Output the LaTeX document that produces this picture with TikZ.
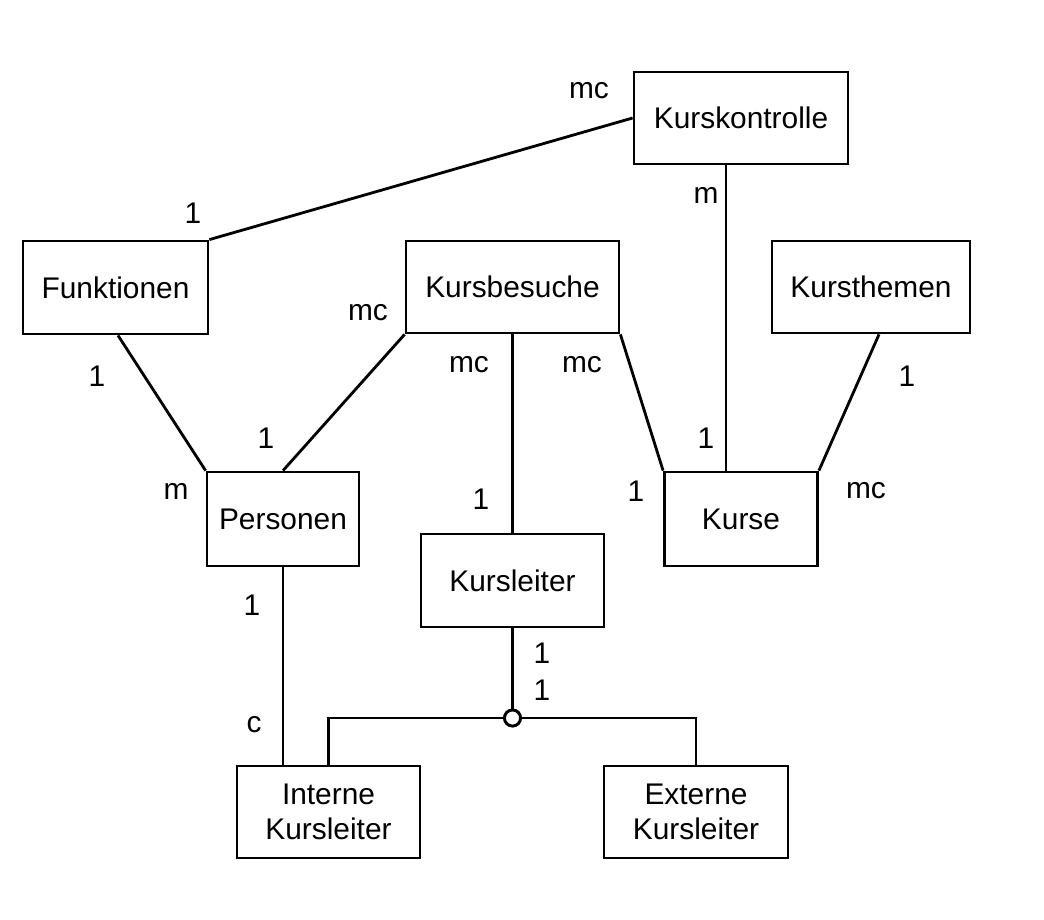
\documentclass[tikz,border=0pt]{standalone}
\usepackage{fontspec}
\setmainfont{Liberation Sans}
\usepackage{tikz}
\usetikzlibrary{positioning, calc}
\tikzset{
  every picture/.style={font=\fontsize{17}{20}\selectfont},
  entitaet/.style={draw=black, thick, line width=1.6pt, minimum height=1.86cm,
              align=center, inner sep=2pt},
  kard/.style={inner sep=1pt},
  linie/.style={line width=1.6pt, black},
  verzw/.style={circle, draw=black, fill=white, line width=1.6pt, minimum size=0.32cm, inner sep=0pt},
}
\begin{document}
\begin{tikzpicture}
  \useasboundingbox (0,0) rectangle (20.88,-18.38);
  % Entitaeten
  \node[entitaet, minimum width=4.28cm, minimum height=1.84cm] (kk) at (14.82,-2.36) {Kurskontrolle};
  \node[entitaet, minimum width=3.70cm] (fkt) at (2.31,-5.75) {Funktionen};
  \node[entitaet, minimum width=4.26cm, minimum height=1.84cm] (kb) at (10.25,-5.74) {Kursbesuche};
  \node[entitaet, minimum width=3.96cm, minimum height=1.84cm] (kt) at (17.42,-5.74) {Kursthemen};
  \node[entitaet, minimum width=3.04cm, minimum height=1.88cm] (pers) at (5.66,-10.38) {Personen};
  \node[entitaet, minimum width=3.06cm, minimum height=1.88cm] (kurse) at (14.82,-10.38) {Kurse};
  \node[entitaet, minimum width=3.66cm] (kl) at (10.25,-11.61) {Kursleiter};
  \node[entitaet, minimum width=3.66cm, minimum height=1.84cm] (ikl) at (6.57,-16.24) {Interne\\Kursleiter};
  \node[entitaet, minimum width=3.68cm, minimum height=1.84cm] (ekl) at (13.92,-16.24) {Externe\\Kursleiter};
  % Beziehungen
  \draw[linie] (kk.west) -- (fkt.north east);
  \draw[linie] ([xshift=-0.3cm]kk.south) -- ([xshift=-0.3cm]kurse.north);
  \draw[linie] ([xshift=0.05cm]fkt.south) -- (pers.north west);
  \draw[linie] (kb.south west) -- (pers.north);
  \draw[linie] (kb.south) -- (kl.north);
  \draw[linie] (kb.south east) -- (kurse.north west);
  \draw[linie] ([xshift=0.16cm]kt.south) -- (kurse.north east);
  \draw[linie] (pers.south) -- (pers.south |- ikl.north);
  % Generalisierung
  \node[verzw] (gen) at (10.25,-14.36) {};
  \draw[linie] (kl.south) -- (gen.north);
  \draw[linie] (gen.west) -| (ikl.north);
  \draw[linie] (gen.east) -| (ekl.north);
  \node[verzw] at (gen) {};
  % Kardinalitaeten
  \foreach \t/\x/\y [count=\i] in {mc/11.78/-1.82, 1/3.86/-4.26, m/14.12/-3.90, 1/1.94/-7.52,
      mc/7.36/-6.26, mc/9.38/-7.30, mc/11.64/-7.30, 1/18.14/-7.52, 1/5.32/-8.76, 1/14.12/-8.76,
      m/3.52/-9.82, 1/9.62/-9.98, 1/12.72/-9.82, mc/17.32/-9.82, 1/5.04/-12.10,
      1/10.84/-13.06, 1/10.84/-13.80, c/5.08/-14.50}
    \node[kard] (k\i) at (\x,\y) {\t};
\end{tikzpicture}
\end{document}
